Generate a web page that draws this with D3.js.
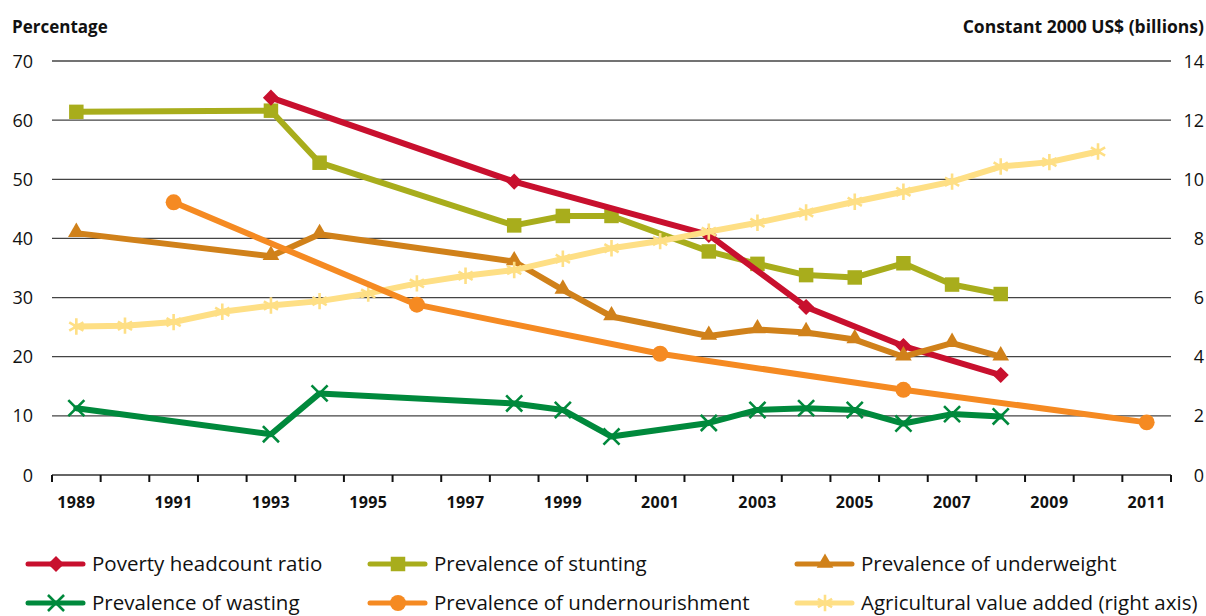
<!DOCTYPE html>
<html>
<head>
<meta charset="utf-8">
<script src="https://cdn.jsdelivr.net/npm/d3@7"></script>
<style>
  html, body { margin: 0; padding: 0; background: #fff; }
  svg { display: block; font-family: "Open Sans", "Noto Sans", sans-serif; }
</style>
</head>
<body>
<svg id="chart" width="1206" height="616"></svg>
<script>
// ---------- DATA ----------
const years = ["1989","1990","1991","1992","1993","1994","1995","1996","1997","1998","1999","2000",
               "2001","2002","2003","2004","2005","2006","2007","2008","2009","2010","2011"];
const yearLabels = ["1989","1991","1993","1995","1997","1999","2001","2003","2005","2007","2009","2011"];
const leftTicks = [0, 10, 20, 30, 40, 50, 60, 70];
const rightTicks = [0, 2, 4, 6, 8, 10, 12, 14];

const povertyYears = ["1993","1998","2002","2004","2006","2008"];
const povertyValues = [63.8, 49.6, 40.6, 28.4, 21.8, 16.9];

const stuntingYears = ["1989","1993","1994","1998","1999","2000","2002","2003","2004","2005","2006","2007","2008"];
const stuntingValues = [61.4, 61.6, 52.8, 42.2, 43.8, 43.8, 37.8, 35.7, 33.8, 33.4, 35.8, 32.2, 30.6];

const underweightYears = ["1989","1993","1994","1998","1999","2000","2002","2003","2004","2005","2006","2007","2008"];
const underweightValues = [40.9, 37.0, 40.7, 36.1, 31.3, 26.8, 23.5, 24.6, 24.1, 22.9, 20.0, 22.3, 20.0];

const wastingYears = ["1989","1993","1994","1998","1999","2000","2002","2003","2004","2005","2006","2007","2008"];
const wastingValues = [11.3, 6.9, 13.8, 12.1, 11.0, 6.5, 8.8, 11.0, 11.3, 11.0, 8.7, 10.3, 9.9];

const undernourishmentYears = ["1991","1996","2001","2006","2011"];
const undernourishmentValues = [46.1, 28.8, 20.5, 14.4, 8.9];

const agriYears = ["1989","1990","1991","1992","1993","1994","1995","1996","1997","1998","1999","2000",
                   "2001","2002","2003","2004","2005","2006","2007","2008","2009","2010"];
const agriValues = [5.02, 5.05, 5.17, 5.52, 5.73, 5.88, 6.14, 6.48, 6.74, 6.93, 7.31, 7.67,
                    7.91, 8.23, 8.53, 8.88, 9.24, 9.58, 9.92, 10.43, 10.58, 10.94];

const seriesNames = ["Poverty headcount ratio", "Prevalence of stunting", "Prevalence of underweight",
                     "Prevalence of wasting", "Prevalence of undernourishment", "Agricultural value added (right axis)"];

// ---------- SETUP ----------
const svg = d3.select("#chart");
const plotLeft = 52, plotRight = 1171, plotTop = 61, plotBottom = 475;

const x = d3.scaleBand().domain(years).range([plotLeft, plotRight]).padding(0);
const xc = d => x(d) + x.bandwidth() / 2;
const yL = d3.scaleLinear().domain([0, 70]).range([plotBottom, plotTop]);
const yR = d3.scaleLinear().domain([0, 14]).range([plotBottom, plotTop]);

const colors = {
  poverty: "#c8102e",
  stunting: "#a8ad1c",
  underweight: "#d0811a",
  wasting: "#00893c",
  undernourishment: "#f58a22",
  agri: "#fedf85"
};

// gridlines
svg.append("g").selectAll("line").data(leftTicks.filter(t => t > 0)).join("line")
  .attr("x1", plotLeft).attr("x2", plotRight)
  .attr("y1", d => yL(d)).attr("y2", d => yL(d))
  .attr("stroke", "#444").attr("stroke-width", 1.3);

// left axis labels
svg.append("g").selectAll("text").data(leftTicks).join("text")
  .attr("x", 33).attr("y", d => yL(d) + 6.5)
  .attr("text-anchor", "end").attr("font-size", 18).attr("fill", "#111")
  .text(d => d);

// right axis labels
svg.append("g").selectAll("text").data(rightTicks).join("text")
  .attr("x", 1204).attr("y", d => yR(d) + 6.5)
  .attr("text-anchor", "end").attr("font-size", 18).attr("fill", "#111")
  .text(d => d);

// axis titles
svg.append("text").attr("x", 12).attr("y", 33).attr("font-size", 17).attr("font-weight", "bold")
  .attr("fill", "#111").text("Percentage");
svg.append("text").attr("x", 1204).attr("y", 33).attr("font-size", 17.5).attr("font-weight", "bold")
  .attr("text-anchor", "end").attr("fill", "#111").text("Constant 2000 US$ (billions)");

// x axis
const xAxisG = svg.append("g");
xAxisG.append("line").attr("x1", plotLeft).attr("x2", plotRight)
  .attr("y1", plotBottom).attr("y2", plotBottom)
  .attr("stroke", "#666").attr("stroke-width", 2);
const tickPositions = years.map(d => x(d)).concat([x(years[years.length - 1]) + x.bandwidth()]);
xAxisG.selectAll("line.tick").data(tickPositions).join("line").attr("class", "tick")
  .attr("x1", d => d).attr("x2", d => d)
  .attr("y1", plotBottom).attr("y2", plotBottom + 7)
  .attr("stroke", "#111").attr("stroke-width", 2);
xAxisG.selectAll("text").data(yearLabels).join("text")
  .attr("x", d => xc(d)).attr("y", 508)
  .attr("text-anchor", "middle").attr("font-size", 16).attr("font-weight", "bold")
  .attr("letter-spacing", 0.4).attr("fill", "#111")
  .text(d => d);

// ---------- SERIES ----------
const lineGen = (scale) => d3.line().x(d => xc(d[0])).y(d => scale(d[1]));

function marker(g, type, color) {
  if (type === "diamond") {
    g.append("path").attr("d", d3.symbol(d3.symbolSquare, 130)()).attr("transform", "rotate(45)")
      .attr("fill", color);
  } else if (type === "square") {
    g.append("path").attr("d", d3.symbol(d3.symbolSquare, 210)()).attr("fill", color);
  } else if (type === "triangle") {
    g.append("path").attr("d", d3.symbol(d3.symbolTriangle, 120)()).attr("transform", "translate(0,-1)")
      .attr("fill", color);
  } else if (type === "circle") {
    g.append("path").attr("d", d3.symbol(d3.symbolCircle, 200)()).attr("fill", color);
  } else if (type === "x") {
    g.append("path").attr("d", d3.symbol(d3.symbolX, 170)()).attr("fill", "none")
      .attr("stroke", color).attr("stroke-width", 2.6);
  } else if (type === "asterisk") {
    g.append("path").attr("d", d3.symbol(d3.symbolAsterisk, 190)()).attr("fill", "none")
      .attr("stroke", color).attr("stroke-width", 2.6);
  }
}

const series = [
  { key: "stunting", yrs: stuntingYears, vals: stuntingValues, scale: yL, type: "square" },
  { key: "poverty", yrs: povertyYears, vals: povertyValues, scale: yL, type: "diamond" },
  { key: "underweight", yrs: underweightYears, vals: underweightValues, scale: yL, type: "triangle" },
  { key: "wasting", yrs: wastingYears, vals: wastingValues, scale: yL, type: "x" },
  { key: "agri", yrs: agriYears, vals: agriValues, scale: yR, type: "asterisk" },
  { key: "undernourishment", yrs: undernourishmentYears, vals: undernourishmentValues, scale: yL, type: "circle" }
];

series.forEach(s => {
  const data = s.yrs.map((yr, i) => [yr, s.vals[i]]);
  const g = svg.append("g");
  g.append("path").datum(data).attr("d", lineGen(s.scale))
    .attr("fill", "none").attr("stroke", colors[s.key]).attr("stroke-width", 6)
    .attr("stroke-linejoin", "round").attr("stroke-linecap", "round");
  g.selectAll("g.m").data(data).join("g").attr("class", "m")
    .attr("transform", d => `translate(${xc(d[0])},${s.scale(d[1])})`)
    .each(function() { marker(d3.select(this), s.type, colors[s.key]); });
});

// ---------- LEGEND ----------
const legendItems = [
  { name: seriesNames[0], key: "poverty", type: "diamond", col: 0, row: 0 },
  { name: seriesNames[1], key: "stunting", type: "square", col: 1, row: 0 },
  { name: seriesNames[2], key: "underweight", type: "triangle", col: 2, row: 0 },
  { name: seriesNames[3], key: "wasting", type: "x", col: 0, row: 1 },
  { name: seriesNames[4], key: "undernourishment", type: "circle", col: 1, row: 1 },
  { name: seriesNames[5], key: "agri", type: "asterisk", col: 2, row: 1 }
];
const colX = [28, 370, 797];
const rowY = [564, 603];
const lg = svg.append("g");
legendItems.forEach(it => {
  const g = lg.append("g").attr("transform", `translate(${colX[it.col]},${rowY[it.row]})`);
  g.append("line").attr("x1", 0).attr("x2", 55).attr("y1", 0).attr("y2", 0)
    .attr("stroke", colors[it.key]).attr("stroke-width", 5).attr("stroke-linecap", "round");
  const mg = g.append("g").attr("transform", "translate(28,0)");
  marker(mg, it.type, colors[it.key]);
  g.append("text").attr("x", 64).attr("y", 7).attr("font-size", 20.5).attr("fill", "#111")
    .text(it.name);
});
</script>
</body>
</html>
